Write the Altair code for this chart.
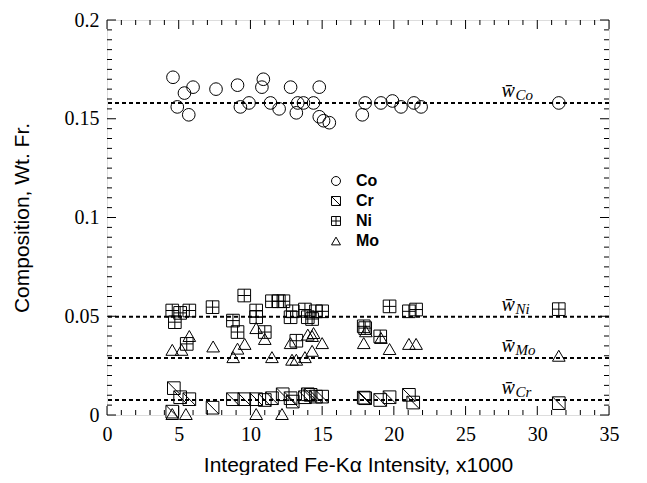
import altair as alt
import pandas as pd

# ---------------- data ----------------
co_x = [4.6, 4.9, 5.4, 5.7, 6.0, 7.6, 9.1, 9.3, 9.9, 10.9, 10.8, 11.4, 12.0, 12.8, 13.3,
        13.2, 13.7, 14.4, 14.8, 14.8, 15.1, 15.5, 17.8, 18.0, 19.1, 19.9, 20.5, 21.4, 21.9, 31.5]
co_y = [0.171, 0.156, 0.163, 0.152, 0.166, 0.165, 0.167, 0.156, 0.158, 0.170, 0.166, 0.158,
        0.155, 0.166, 0.158, 0.153, 0.158, 0.158, 0.166, 0.151, 0.149, 0.148, 0.152, 0.158,
        0.158, 0.159, 0.156, 0.158, 0.156, 0.158]

ni_x = [4.55, 4.73, 5.1, 5.74, 5.56, 7.36, 8.78, 9.1, 9.57, 10.4, 10.4, 11.0, 11.5, 11.98,
        12.3, 12.8, 12.95, 13.2, 13.8, 14.0, 14.3, 14.57, 15.0, 17.9, 18.0, 19.05, 19.7,
        21.05, 21.55, 31.5]
ni_y = [0.0529, 0.0470, 0.0517, 0.0529, 0.0360, 0.0546, 0.0478, 0.0420, 0.0605, 0.0529,
        0.0495, 0.0420, 0.0576, 0.0576, 0.0576, 0.0495, 0.0525, 0.0376, 0.0534, 0.0495,
        0.0486, 0.0525, 0.0525, 0.0449, 0.0440, 0.0398, 0.0550, 0.0525, 0.0534, 0.0536]

mo_x = [4.55, 5.2, 5.74, 7.4, 8.8, 9.1, 9.6, 10.4, 11.0, 11.5, 12.8, 12.9, 13.2, 13.8, 14.0,
        14.3, 14.4, 14.3, 15.0, 17.9, 18.05, 19.1, 19.7, 21.05, 21.55, 31.5,
        4.55, 5.5, 10.4, 12.2]
mo_y = [0.0330, 0.0330, 0.0400, 0.0347, 0.0293, 0.0336, 0.0360, 0.0440, 0.0385, 0.0293,
        0.0364, 0.0280, 0.0280, 0.0293, 0.0407, 0.0325, 0.0415, 0.0400, 0.0364, 0.0364,
        0.0424, 0.0390, 0.0334, 0.0360, 0.0360, 0.0300,
        0.0005, 0.0005, 0.0005, 0.0005]

cr_x = [4.66, 4.55, 5.1, 5.74, 7.36, 8.78, 9.57, 10.4, 11.0, 11.5, 12.25, 12.8, 12.95, 13.8,
        14.0, 14.2, 14.57, 15.0, 17.9, 18.0, 19.05, 19.7, 21.05, 21.35, 31.5]
cr_y = [0.0136, 0.0017, 0.0090, 0.0080, 0.0037, 0.0080, 0.0080, 0.0080, 0.0076, 0.0085,
        0.0105, 0.0085, 0.0068, 0.0090, 0.0105, 0.0102, 0.0093, 0.0093, 0.0088, 0.0085,
        0.0076, 0.0090, 0.0102, 0.0063, 0.0060]

elements = ["Co", "Cr", "Ni", "Mo"]
mean_values = [0.158, 0.0076, 0.0498, 0.0288]
mean_label_x = [27.5, 27.5, 27.5, 27.5]

x_major = [0, 5, 10, 15, 20, 25, 30, 35]
x_minor = [v for v in range(36) if v % 5 != 0]
y_major = [0, 0.05, 0.1, 0.15, 0.2]
y_minor = [round(i * 0.005, 3) for i in range(41) if i % 10 != 0]

# ---------------- tables ----------------
rows = []
for name, xs_, ys_ in [("Co", co_x, co_y), ("Cr", cr_x, cr_y), ("Ni", ni_x, ni_y), ("Mo", mo_x, mo_y)]:
    for a, b in zip(xs_, ys_):
        rows.append({"x": a, "y": b, "element": name})
pts = pd.DataFrame(rows)
means = pd.DataFrame({"element": elements, "mean": mean_values, "lx": mean_label_x,
                      "w": ["w\u0304"] * 4})

W, H = 502, 395
xs = alt.Scale(domain=[0, 35], nice=False, zero=False)
ys = alt.Scale(domain=[0, 0.2], nice=False, zero=False)

xaxis = alt.Axis(title="Integrated Fe-K\u03b1 Intensity, x1000", values=x_major, ticks=False,
                 domain=False, grid=False, labelFont="Liberation Serif", labelFontSize=20,
                 labelPadding=9, labelFlush=False, labelColor="black",
                 titleFont="Liberation Sans", titleFontSize=21, titleFontWeight="normal",
                 titleColor="black", titleX=W / 2, titleY=56, titleBaseline="alphabetic")
yaxis = alt.Axis(title="Composition, Wt. Fr.", values=y_major, format="~g", ticks=False,
                 domain=False, grid=False, labelFont="Liberation Serif", labelFontSize=20,
                 labelPadding=8, labelFlush=False, labelColor="black",
                 titleFont="Liberation Sans", titleFontSize=21, titleFontWeight="normal",
                 titleColor="black", titleX=-85, titleY=H / 2, titleBaseline="middle",
                 titleAngle=-90)

CR_PATH = "M-1,-1H1V1H-1Z M-1,-1L1,1"
NI_PATH = "M-1,-1H1V1H-1Z M0,-1V1 M-1,0H1"

points = alt.Chart(pts).mark_point(filled=False, size=160, strokeWidth=1, color="black",
                                   opacity=1).encode(
    x=alt.X("x:Q", scale=xs, axis=xaxis),
    y=alt.Y("y:Q", scale=ys, axis=yaxis),
    shape=alt.Shape("element:N",
                    scale=alt.Scale(domain=elements,
                                    range=["circle", CR_PATH, NI_PATH, "triangle-up"]),
                    legend=alt.Legend(title=None, orient="none", legendX=221, legendY=153,
                                      padding=0, labelFont="Liberation Sans",
                                      labelFontWeight="bold", labelFontSize=16,
                                      labelColor="black", labelOffset=12, symbolSize=80,
                                      symbolStrokeColor="black", symbolStrokeWidth=1,
                                      symbolFillColor="transparent", rowPadding=4)),
)

mean_lines = alt.Chart(means).mark_rule(strokeDash=[4, 3], strokeWidth=2, color="black").encode(
    y=alt.Y("mean:Q", scale=ys, axis=yaxis))

w_text = alt.Chart(means).mark_text(font="Liberation Serif", fontStyle="italic", fontSize=20,
                                    align="left", baseline="alphabetic", dy=-6,
                                    color="black").encode(
    x=alt.X("lx:Q", scale=xs, axis=xaxis), y=alt.Y("mean:Q", scale=ys, axis=yaxis), text="w:N")
sub_text = alt.Chart(means).mark_text(font="Liberation Serif", fontStyle="italic", fontSize=15,
                                      align="left", baseline="alphabetic", dx=14, dy=-3,
                                      color="black").encode(
    x=alt.X("lx:Q", scale=xs, axis=xaxis), y=alt.Y("mean:Q", scale=ys, axis=yaxis),
    text="element:N")


def xticks(vals, length):
    d = pd.DataFrame({"v": vals})
    base = alt.Chart(d).mark_rule(color="black", strokeWidth=1)
    bot = base.encode(x=alt.X("v:Q", scale=xs, axis=xaxis), y=alt.value(H), y2=alt.value(H - length))
    top = base.encode(x=alt.X("v:Q", scale=xs, axis=xaxis), y=alt.value(0), y2=alt.value(length))
    return [bot, top]


def yticks(vals, length):
    d = pd.DataFrame({"v": vals})
    base = alt.Chart(d).mark_rule(color="black", strokeWidth=1)
    left = base.encode(y=alt.Y("v:Q", scale=ys, axis=yaxis), x=alt.value(0), x2=alt.value(length))
    right = base.encode(y=alt.Y("v:Q", scale=ys, axis=yaxis), x=alt.value(W), x2=alt.value(W - length))
    return [left, right]


layers = (xticks(x_major, 9) + xticks(x_minor, 5) + yticks(y_major, 9) + yticks(y_minor, 5)
          + [mean_lines, w_text, sub_text, points])

chart = alt.layer(*layers).properties(
    width=W, height=H,
    padding={"left": 99, "top": 12, "right": 29, "bottom": 60},
    autosize=alt.AutoSizeParams(type="none"),
).configure_view(stroke="black", strokeWidth=1.5).configure(background="white")

chart.save("out.html", embed_options={"renderer": "svg", "actions": False})
